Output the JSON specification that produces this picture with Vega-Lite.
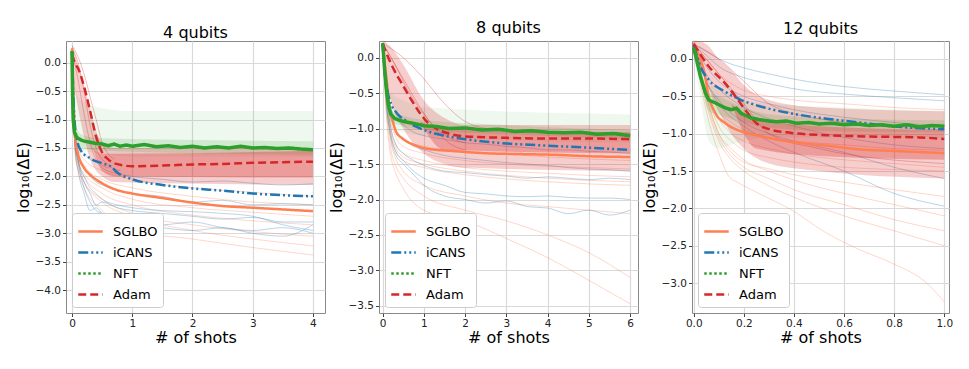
{
"$schema":"https://vega.github.io/schema/vega-lite/v6.json",
"background":"white",
"padding":{"left":14,"top":19,"right":5,"bottom":5},
"datasets":{
"means":[
{"panel":1,"method":"SGLBO","shots":0,"logdE":0.25},{"panel":1,"method":"SGLBO","shots":200000,"logdE":-0.5},{"panel":1,"method":"SGLBO","shots":500000,"logdE":-1.3},{"panel":1,"method":"SGLBO","shots":1000000,"logdE":-1.6},{"panel":1,"method":"SGLBO","shots":2000000,"logdE":-1.85},{"panel":1,"method":"SGLBO","shots":3000000,"logdE":-1.97},{"panel":1,"method":"SGLBO","shots":5000000,"logdE":-2.12},{"panel":1,"method":"SGLBO","shots":7500000,"logdE":-2.24},{"panel":1,"method":"SGLBO","shots":10000000,"logdE":-2.3},{"panel":1,"method":"SGLBO","shots":15000000,"logdE":-2.38},{"panel":1,"method":"SGLBO","shots":20000000,"logdE":-2.46},{"panel":1,"method":"SGLBO","shots":25000000,"logdE":-2.52},{"panel":1,"method":"SGLBO","shots":30000000,"logdE":-2.55},{"panel":1,"method":"SGLBO","shots":35000000,"logdE":-2.58},{"panel":1,"method":"SGLBO","shots":40000000,"logdE":-2.61},
{"panel":1,"method":"iCANS","shots":0,"logdE":0.2},{"panel":1,"method":"iCANS","shots":300000,"logdE":-0.8},{"panel":1,"method":"iCANS","shots":800000,"logdE":-1.35},{"panel":1,"method":"iCANS","shots":1500000,"logdE":-1.55},{"panel":1,"method":"iCANS","shots":3000000,"logdE":-1.68},{"panel":1,"method":"iCANS","shots":5000000,"logdE":-1.77},{"panel":1,"method":"iCANS","shots":6500000,"logdE":-1.83},{"panel":1,"method":"iCANS","shots":7500000,"logdE":-1.93},{"panel":1,"method":"iCANS","shots":10000000,"logdE":-2.05},{"panel":1,"method":"iCANS","shots":15000000,"logdE":-2.15},{"panel":1,"method":"iCANS","shots":20000000,"logdE":-2.21},{"panel":1,"method":"iCANS","shots":25000000,"logdE":-2.25},{"panel":1,"method":"iCANS","shots":30000000,"logdE":-2.3},{"panel":1,"method":"iCANS","shots":35000000,"logdE":-2.33},{"panel":1,"method":"iCANS","shots":40000000,"logdE":-2.35},
{"panel":1,"method":"NFT","shots":0,"logdE":0.2},{"panel":1,"method":"NFT","shots":100000,"logdE":-0.6},{"panel":1,"method":"NFT","shots":200000,"logdE":-1.0},{"panel":1,"method":"NFT","shots":400000,"logdE":-1.22},{"panel":1,"method":"NFT","shots":700000,"logdE":-1.3},{"panel":1,"method":"NFT","shots":1000000,"logdE":-1.33},{"panel":1,"method":"NFT","shots":1500000,"logdE":-1.36},{"panel":1,"method":"NFT","shots":2000000,"logdE":-1.38},{"panel":1,"method":"NFT","shots":3000000,"logdE":-1.4},{"panel":1,"method":"NFT","shots":4000000,"logdE":-1.42},{"panel":1,"method":"NFT","shots":5000000,"logdE":-1.43},{"panel":1,"method":"NFT","shots":6000000,"logdE":-1.46},{"panel":1,"method":"NFT","shots":7000000,"logdE":-1.43},{"panel":1,"method":"NFT","shots":8000000,"logdE":-1.47},{"panel":1,"method":"NFT","shots":9000000,"logdE":-1.45},{"panel":1,"method":"NFT","shots":10000000,"logdE":-1.47},{"panel":1,"method":"NFT","shots":12000000,"logdE":-1.44},{"panel":1,"method":"NFT","shots":14000000,"logdE":-1.48},{"panel":1,"method":"NFT","shots":16000000,"logdE":-1.46},{"panel":1,"method":"NFT","shots":18000000,"logdE":-1.49},{"panel":1,"method":"NFT","shots":20000000,"logdE":-1.47},{"panel":1,"method":"NFT","shots":22000000,"logdE":-1.5},{"panel":1,"method":"NFT","shots":24000000,"logdE":-1.48},{"panel":1,"method":"NFT","shots":26000000,"logdE":-1.5},{"panel":1,"method":"NFT","shots":28000000,"logdE":-1.47},{"panel":1,"method":"NFT","shots":30000000,"logdE":-1.5},{"panel":1,"method":"NFT","shots":32000000,"logdE":-1.49},{"panel":1,"method":"NFT","shots":34000000,"logdE":-1.51},{"panel":1,"method":"NFT","shots":36000000,"logdE":-1.5},{"panel":1,"method":"NFT","shots":38000000,"logdE":-1.52},{"panel":1,"method":"NFT","shots":40000000,"logdE":-1.53},
{"panel":1,"method":"Adam","shots":0,"logdE":0.15},{"panel":1,"method":"Adam","shots":500000,"logdE":-0.01},{"panel":1,"method":"Adam","shots":1000000,"logdE":-0.1},{"panel":1,"method":"Adam","shots":2000000,"logdE":-0.42},{"panel":1,"method":"Adam","shots":3000000,"logdE":-0.85},{"panel":1,"method":"Adam","shots":4000000,"logdE":-1.3},{"panel":1,"method":"Adam","shots":5000000,"logdE":-1.58},{"panel":1,"method":"Adam","shots":6000000,"logdE":-1.7},{"panel":1,"method":"Adam","shots":7000000,"logdE":-1.77},{"panel":1,"method":"Adam","shots":10000000,"logdE":-1.82},{"panel":1,"method":"Adam","shots":15000000,"logdE":-1.81},{"panel":1,"method":"Adam","shots":20000000,"logdE":-1.79},{"panel":1,"method":"Adam","shots":25000000,"logdE":-1.78},{"panel":1,"method":"Adam","shots":30000000,"logdE":-1.76},{"panel":1,"method":"Adam","shots":35000000,"logdE":-1.75},{"panel":1,"method":"Adam","shots":40000000,"logdE":-1.74},
{"panel":2,"method":"SGLBO","shots":0,"logdE":0.2},{"panel":2,"method":"SGLBO","shots":500000,"logdE":-0.1},{"panel":2,"method":"SGLBO","shots":1000000,"logdE":-0.35},{"panel":2,"method":"SGLBO","shots":1500000,"logdE":-0.64},{"panel":2,"method":"SGLBO","shots":2400000,"logdE":-0.88},{"panel":2,"method":"SGLBO","shots":3200000,"logdE":-1.04},{"panel":2,"method":"SGLBO","shots":4800000,"logdE":-1.14},{"panel":2,"method":"SGLBO","shots":7200000,"logdE":-1.22},{"panel":2,"method":"SGLBO","shots":10500000,"logdE":-1.28},{"panel":2,"method":"SGLBO","shots":17800000,"logdE":-1.32},{"panel":2,"method":"SGLBO","shots":26000000,"logdE":-1.35},{"panel":2,"method":"SGLBO","shots":34000000,"logdE":-1.36},{"panel":2,"method":"SGLBO","shots":42000000,"logdE":-1.37},{"panel":2,"method":"SGLBO","shots":50000000,"logdE":-1.39},{"panel":2,"method":"SGLBO","shots":60000000,"logdE":-1.4},
{"panel":2,"method":"iCANS","shots":0,"logdE":0.2},{"panel":2,"method":"iCANS","shots":500000,"logdE":-0.2},{"panel":2,"method":"iCANS","shots":1000000,"logdE":-0.42},{"panel":2,"method":"iCANS","shots":2000000,"logdE":-0.65},{"panel":2,"method":"iCANS","shots":3000000,"logdE":-0.75},{"panel":2,"method":"iCANS","shots":4000000,"logdE":-0.82},{"panel":2,"method":"iCANS","shots":6000000,"logdE":-0.9},{"panel":2,"method":"iCANS","shots":8000000,"logdE":-0.97},{"panel":2,"method":"iCANS","shots":10000000,"logdE":-1.02},{"panel":2,"method":"iCANS","shots":15000000,"logdE":-1.1},{"panel":2,"method":"iCANS","shots":20000000,"logdE":-1.15},{"panel":2,"method":"iCANS","shots":30000000,"logdE":-1.21},{"panel":2,"method":"iCANS","shots":40000000,"logdE":-1.24},{"panel":2,"method":"iCANS","shots":50000000,"logdE":-1.27},{"panel":2,"method":"iCANS","shots":60000000,"logdE":-1.3},
{"panel":2,"method":"NFT","shots":0,"logdE":0.2},{"panel":2,"method":"NFT","shots":500000,"logdE":-0.2},{"panel":2,"method":"NFT","shots":1000000,"logdE":-0.5},{"panel":2,"method":"NFT","shots":1500000,"logdE":-0.7},{"panel":2,"method":"NFT","shots":2000000,"logdE":-0.8},{"panel":2,"method":"NFT","shots":3000000,"logdE":-0.86},{"panel":2,"method":"NFT","shots":4000000,"logdE":-0.88},{"panel":2,"method":"NFT","shots":5000000,"logdE":-0.9},{"panel":2,"method":"NFT","shots":7000000,"logdE":-0.92},{"panel":2,"method":"NFT","shots":10000000,"logdE":-0.96},{"panel":2,"method":"NFT","shots":13000000,"logdE":-0.97},{"panel":2,"method":"NFT","shots":16000000,"logdE":-1.0},{"panel":2,"method":"NFT","shots":20000000,"logdE":-0.99},{"panel":2,"method":"NFT","shots":24000000,"logdE":-1.02},{"panel":2,"method":"NFT","shots":28000000,"logdE":-1.01},{"panel":2,"method":"NFT","shots":32000000,"logdE":-1.04},{"panel":2,"method":"NFT","shots":36000000,"logdE":-1.03},{"panel":2,"method":"NFT","shots":40000000,"logdE":-1.05},{"panel":2,"method":"NFT","shots":44000000,"logdE":-1.06},{"panel":2,"method":"NFT","shots":48000000,"logdE":-1.05},{"panel":2,"method":"NFT","shots":52000000,"logdE":-1.08},{"panel":2,"method":"NFT","shots":56000000,"logdE":-1.07},{"panel":2,"method":"NFT","shots":60000000,"logdE":-1.1},
{"panel":2,"method":"Adam","shots":0,"logdE":0.2},{"panel":2,"method":"Adam","shots":1000000,"logdE":0.05},{"panel":2,"method":"Adam","shots":3000000,"logdE":-0.2},{"panel":2,"method":"Adam","shots":5000000,"logdE":-0.4},{"panel":2,"method":"Adam","shots":7000000,"logdE":-0.6},{"panel":2,"method":"Adam","shots":9000000,"logdE":-0.78},{"panel":2,"method":"Adam","shots":11000000,"logdE":-0.92},{"panel":2,"method":"Adam","shots":13000000,"logdE":-1.0},{"panel":2,"method":"Adam","shots":16000000,"logdE":-1.07},{"panel":2,"method":"Adam","shots":20000000,"logdE":-1.11},{"panel":2,"method":"Adam","shots":30000000,"logdE":-1.13},{"panel":2,"method":"Adam","shots":40000000,"logdE":-1.14},{"panel":2,"method":"Adam","shots":50000000,"logdE":-1.14},{"panel":2,"method":"Adam","shots":60000000,"logdE":-1.15},
{"panel":3,"method":"SGLBO","shots":0,"logdE":0.22},{"panel":3,"method":"SGLBO","shots":2700000,"logdE":-0.01},{"panel":3,"method":"SGLBO","shots":4000000,"logdE":-0.15},{"panel":3,"method":"SGLBO","shots":6000000,"logdE":-0.5},{"panel":3,"method":"SGLBO","shots":8700000,"logdE":-0.73},{"panel":3,"method":"SGLBO","shots":12600000,"logdE":-0.86},{"panel":3,"method":"SGLBO","shots":19000000,"logdE":-0.97},{"panel":3,"method":"SGLBO","shots":26000000,"logdE":-1.03},{"panel":3,"method":"SGLBO","shots":39000000,"logdE":-1.11},{"panel":3,"method":"SGLBO","shots":53000000,"logdE":-1.16},{"panel":3,"method":"SGLBO","shots":66000000,"logdE":-1.21},{"panel":3,"method":"SGLBO","shots":79000000,"logdE":-1.23},{"panel":3,"method":"SGLBO","shots":100000000,"logdE":-1.26},
{"panel":3,"method":"iCANS","shots":0,"logdE":0.18},{"panel":3,"method":"iCANS","shots":3300000,"logdE":-0.15},{"panel":3,"method":"iCANS","shots":6000000,"logdE":-0.28},{"panel":3,"method":"iCANS","shots":12600000,"logdE":-0.44},{"panel":3,"method":"iCANS","shots":19000000,"logdE":-0.55},{"panel":3,"method":"iCANS","shots":26000000,"logdE":-0.63},{"panel":3,"method":"iCANS","shots":39000000,"logdE":-0.73},{"panel":3,"method":"iCANS","shots":53000000,"logdE":-0.8},{"panel":3,"method":"iCANS","shots":66000000,"logdE":-0.85},{"panel":3,"method":"iCANS","shots":79000000,"logdE":-0.9},{"panel":3,"method":"iCANS","shots":100000000,"logdE":-0.94},
{"panel":3,"method":"NFT","shots":0,"logdE":0.15},{"panel":3,"method":"NFT","shots":2700000,"logdE":-0.24},{"panel":3,"method":"NFT","shots":4700000,"logdE":-0.46},{"panel":3,"method":"NFT","shots":6000000,"logdE":-0.55},{"panel":3,"method":"NFT","shots":8700000,"logdE":-0.59},{"panel":3,"method":"NFT","shots":11000000,"logdE":-0.63},{"panel":3,"method":"NFT","shots":13000000,"logdE":-0.66},{"panel":3,"method":"NFT","shots":15000000,"logdE":-0.68},{"panel":3,"method":"NFT","shots":17000000,"logdE":-0.66},{"panel":3,"method":"NFT","shots":19000000,"logdE":-0.73},{"panel":3,"method":"NFT","shots":21000000,"logdE":-0.76},{"panel":3,"method":"NFT","shots":23000000,"logdE":-0.79},{"panel":3,"method":"NFT","shots":26000000,"logdE":-0.81},{"panel":3,"method":"NFT","shots":30000000,"logdE":-0.83},{"panel":3,"method":"NFT","shots":33000000,"logdE":-0.84},{"panel":3,"method":"NFT","shots":37000000,"logdE":-0.83},{"panel":3,"method":"NFT","shots":41000000,"logdE":-0.86},{"panel":3,"method":"NFT","shots":46000000,"logdE":-0.85},{"panel":3,"method":"NFT","shots":50000000,"logdE":-0.87},{"panel":3,"method":"NFT","shots":55000000,"logdE":-0.86},{"panel":3,"method":"NFT","shots":60000000,"logdE":-0.88},{"panel":3,"method":"NFT","shots":65000000,"logdE":-0.87},{"panel":3,"method":"NFT","shots":70000000,"logdE":-0.89},{"panel":3,"method":"NFT","shots":75000000,"logdE":-0.88},{"panel":3,"method":"NFT","shots":80000000,"logdE":-0.9},{"panel":3,"method":"NFT","shots":85000000,"logdE":-0.88},{"panel":3,"method":"NFT","shots":90000000,"logdE":-0.91},{"panel":3,"method":"NFT","shots":95000000,"logdE":-0.89},{"panel":3,"method":"NFT","shots":100000000,"logdE":-0.9},
{"panel":3,"method":"Adam","shots":0,"logdE":0.2},{"panel":3,"method":"Adam","shots":6000000,"logdE":-0.1},{"panel":3,"method":"Adam","shots":12600000,"logdE":-0.33},{"panel":3,"method":"Adam","shots":16600000,"logdE":-0.5},{"panel":3,"method":"Adam","shots":21000000,"logdE":-0.7},{"panel":3,"method":"Adam","shots":25000000,"logdE":-0.86},{"panel":3,"method":"Adam","shots":30000000,"logdE":-0.94},{"panel":3,"method":"Adam","shots":39000000,"logdE":-0.99},{"panel":3,"method":"Adam","shots":53000000,"logdE":-1.02},{"panel":3,"method":"Adam","shots":73000000,"logdE":-1.04},{"panel":3,"method":"Adam","shots":90000000,"logdE":-1.05},{"panel":3,"method":"Adam","shots":100000000,"logdE":-1.07}
],
"bands":[
{"panel":1,"optimizer":"NFT","band":"NFT haze","shots":0,"lo":0.1,"hi":0.25},{"panel":1,"optimizer":"NFT","band":"NFT haze","shots":300000,"lo":-1.3,"hi":-0.2},{"panel":1,"optimizer":"NFT","band":"NFT haze","shots":1000000,"lo":-1.5,"hi":-0.6},{"panel":1,"optimizer":"NFT","band":"NFT haze","shots":2000000,"lo":-1.55,"hi":-0.7},{"panel":1,"optimizer":"NFT","band":"NFT haze","shots":5000000,"lo":-1.6,"hi":-0.8},{"panel":1,"optimizer":"NFT","band":"NFT haze","shots":10000000,"lo":-1.65,"hi":-0.85},{"panel":1,"optimizer":"NFT","band":"NFT haze","shots":40000000,"lo":-1.65,"hi":-0.85},
{"panel":1,"optimizer":"NFT","band":"NFT core","shots":100000,"lo":-0.9,"hi":-0.9},{"panel":1,"optimizer":"NFT","band":"NFT core","shots":300000,"lo":-1.3,"hi":-1.05},{"panel":1,"optimizer":"NFT","band":"NFT core","shots":1000000,"lo":-1.45,"hi":-1.2},{"panel":1,"optimizer":"NFT","band":"NFT core","shots":2000000,"lo":-1.5,"hi":-1.28},{"panel":1,"optimizer":"NFT","band":"NFT core","shots":5000000,"lo":-1.55,"hi":-1.33},{"panel":1,"optimizer":"NFT","band":"NFT core","shots":40000000,"lo":-1.62,"hi":-1.38},
{"panel":1,"optimizer":"Adam","band":"Adam haze","shots":0,"lo":-0.1,"hi":0.3},{"panel":1,"optimizer":"Adam","band":"Adam haze","shots":500000,"lo":-0.5,"hi":0.15},{"panel":1,"optimizer":"Adam","band":"Adam haze","shots":1000000,"lo":-0.8,"hi":-0.05},{"panel":1,"optimizer":"Adam","band":"Adam haze","shots":2000000,"lo":-1.3,"hi":-0.4},{"panel":1,"optimizer":"Adam","band":"Adam haze","shots":3000000,"lo":-1.7,"hi":-0.8},{"panel":1,"optimizer":"Adam","band":"Adam haze","shots":4000000,"lo":-1.9,"hi":-1.2},{"panel":1,"optimizer":"Adam","band":"Adam haze","shots":5000000,"lo":-2.0,"hi":-1.4},{"panel":1,"optimizer":"Adam","band":"Adam haze","shots":7000000,"lo":-2.1,"hi":-1.5},{"panel":1,"optimizer":"Adam","band":"Adam haze","shots":40000000,"lo":-2.15,"hi":-1.5},
{"panel":1,"optimizer":"Adam","band":"Adam core","shots":3500000,"lo":-1.5,"hi":-1.5},{"panel":1,"optimizer":"Adam","band":"Adam core","shots":5000000,"lo":-1.9,"hi":-1.6},{"panel":1,"optimizer":"Adam","band":"Adam core","shots":7000000,"lo":-2.0,"hi":-1.6},{"panel":1,"optimizer":"Adam","band":"Adam core","shots":40000000,"lo":-2.02,"hi":-1.55},
{"panel":2,"optimizer":"NFT","band":"NFT haze","shots":0,"lo":0.15,"hi":0.25},{"panel":2,"optimizer":"NFT","band":"NFT haze","shots":1000000,"lo":-0.9,"hi":-0.2},{"panel":2,"optimizer":"NFT","band":"NFT haze","shots":2000000,"lo":-1.0,"hi":-0.5},{"panel":2,"optimizer":"NFT","band":"NFT haze","shots":5000000,"lo":-1.05,"hi":-0.6},{"panel":2,"optimizer":"NFT","band":"NFT haze","shots":10000000,"lo":-1.1,"hi":-0.7},{"panel":2,"optimizer":"NFT","band":"NFT haze","shots":60000000,"lo":-1.2,"hi":-0.8},
{"panel":2,"optimizer":"NFT","band":"NFT core","shots":1000000,"lo":-0.6,"hi":-0.6},{"panel":2,"optimizer":"NFT","band":"NFT core","shots":2000000,"lo":-0.9,"hi":-0.75},{"panel":2,"optimizer":"NFT","band":"NFT core","shots":5000000,"lo":-0.97,"hi":-0.82},{"panel":2,"optimizer":"NFT","band":"NFT core","shots":10000000,"lo":-1.02,"hi":-0.88},{"panel":2,"optimizer":"NFT","band":"NFT core","shots":30000000,"lo":-1.08,"hi":-0.95},{"panel":2,"optimizer":"NFT","band":"NFT core","shots":60000000,"lo":-1.15,"hi":-1.02},
{"panel":2,"optimizer":"Adam","band":"Adam haze","shots":0,"lo":0.1,"hi":0.25},{"panel":2,"optimizer":"Adam","band":"Adam haze","shots":2000000,"lo":-0.6,"hi":0.15},{"panel":2,"optimizer":"Adam","band":"Adam haze","shots":5000000,"lo":-1.0,"hi":-0.1},{"panel":2,"optimizer":"Adam","band":"Adam haze","shots":10000000,"lo":-1.35,"hi":-0.6},{"panel":2,"optimizer":"Adam","band":"Adam haze","shots":15000000,"lo":-1.5,"hi":-0.85},{"panel":2,"optimizer":"Adam","band":"Adam haze","shots":20000000,"lo":-1.55,"hi":-0.95},{"panel":2,"optimizer":"Adam","band":"Adam haze","shots":60000000,"lo":-1.6,"hi":-0.95},
{"panel":2,"optimizer":"Adam","band":"Adam core","shots":9000000,"lo":-0.9,"hi":-0.9},{"panel":2,"optimizer":"Adam","band":"Adam core","shots":15000000,"lo":-1.3,"hi":-1.0},{"panel":2,"optimizer":"Adam","band":"Adam core","shots":60000000,"lo":-1.35,"hi":-1.05},
{"panel":3,"optimizer":"NFT","band":"NFT haze","shots":0,"lo":0.1,"hi":0.25},{"panel":3,"optimizer":"NFT","band":"NFT haze","shots":3000000,"lo":-0.6,"hi":0.0},{"panel":3,"optimizer":"NFT","band":"NFT haze","shots":6000000,"lo":-1.1,"hi":-0.3},{"panel":3,"optimizer":"NFT","band":"NFT haze","shots":10000000,"lo":-1.2,"hi":-0.4},{"panel":3,"optimizer":"NFT","band":"NFT haze","shots":15000000,"lo":-1.15,"hi":-0.45},{"panel":3,"optimizer":"NFT","band":"NFT haze","shots":20000000,"lo":-1.1,"hi":-0.55},{"panel":3,"optimizer":"NFT","band":"NFT haze","shots":30000000,"lo":-1.05,"hi":-0.6},{"panel":3,"optimizer":"NFT","band":"NFT haze","shots":60000000,"lo":-1.05,"hi":-0.65},{"panel":3,"optimizer":"NFT","band":"NFT haze","shots":100000000,"lo":-1.05,"hi":-0.7},
{"panel":3,"optimizer":"NFT","band":"NFT core","shots":3000000,"lo":-0.3,"hi":-0.3},{"panel":3,"optimizer":"NFT","band":"NFT core","shots":6000000,"lo":-0.7,"hi":-0.45},{"panel":3,"optimizer":"NFT","band":"NFT core","shots":10000000,"lo":-0.75,"hi":-0.5},{"panel":3,"optimizer":"NFT","band":"NFT core","shots":20000000,"lo":-0.85,"hi":-0.65},{"panel":3,"optimizer":"NFT","band":"NFT core","shots":30000000,"lo":-0.92,"hi":-0.74},{"panel":3,"optimizer":"NFT","band":"NFT core","shots":60000000,"lo":-0.97,"hi":-0.8},{"panel":3,"optimizer":"NFT","band":"NFT core","shots":100000000,"lo":-0.98,"hi":-0.82},
{"panel":3,"optimizer":"Adam","band":"Adam haze","shots":0,"lo":0.1,"hi":0.25},{"panel":3,"optimizer":"Adam","band":"Adam haze","shots":5000000,"lo":-0.3,"hi":0.2},{"panel":3,"optimizer":"Adam","band":"Adam haze","shots":10000000,"lo":-0.7,"hi":0.0},{"panel":3,"optimizer":"Adam","band":"Adam haze","shots":15000000,"lo":-1.0,"hi":-0.15},{"panel":3,"optimizer":"Adam","band":"Adam haze","shots":20000000,"lo":-1.2,"hi":-0.35},{"panel":3,"optimizer":"Adam","band":"Adam haze","shots":30000000,"lo":-1.4,"hi":-0.55},{"panel":3,"optimizer":"Adam","band":"Adam haze","shots":50000000,"lo":-1.5,"hi":-0.65},{"panel":3,"optimizer":"Adam","band":"Adam haze","shots":100000000,"lo":-1.6,"hi":-0.7},
{"panel":3,"optimizer":"Adam","band":"Adam core","shots":15000000,"lo":-0.6,"hi":-0.6},{"panel":3,"optimizer":"Adam","band":"Adam core","shots":25000000,"lo":-1.2,"hi":-0.8},{"panel":3,"optimizer":"Adam","band":"Adam core","shots":50000000,"lo":-1.3,"hi":-0.9},{"panel":3,"optimizer":"Adam","band":"Adam core","shots":100000000,"lo":-1.35,"hi":-0.95}
],
"traces":[
{"panel":1,"optimizer":"SGLBO","run":"s1","shots":0,"logdE":0.25},{"panel":1,"optimizer":"SGLBO","run":"s1","shots":500000,"logdE":-1.2},{"panel":1,"optimizer":"SGLBO","run":"s1","shots":1000000,"logdE":-1.5},{"panel":1,"optimizer":"SGLBO","run":"s1","shots":2000000,"logdE":-1.7},{"panel":1,"optimizer":"SGLBO","run":"s1","shots":5000000,"logdE":-1.9},{"panel":1,"optimizer":"SGLBO","run":"s1","shots":10000000,"logdE":-2.05},{"panel":1,"optimizer":"SGLBO","run":"s1","shots":20000000,"logdE":-2.2},{"panel":1,"optimizer":"SGLBO","run":"s1","shots":30000000,"logdE":-2.28},{"panel":1,"optimizer":"SGLBO","run":"s1","shots":40000000,"logdE":-2.35},
{"panel":1,"optimizer":"SGLBO","run":"s2","shots":0,"logdE":0.22},{"panel":1,"optimizer":"SGLBO","run":"s2","shots":500000,"logdE":-1.3},{"panel":1,"optimizer":"SGLBO","run":"s2","shots":1000000,"logdE":-1.6},{"panel":1,"optimizer":"SGLBO","run":"s2","shots":2000000,"logdE":-1.8},{"panel":1,"optimizer":"SGLBO","run":"s2","shots":5000000,"logdE":-2.05},{"panel":1,"optimizer":"SGLBO","run":"s2","shots":10000000,"logdE":-2.2},{"panel":1,"optimizer":"SGLBO","run":"s2","shots":20000000,"logdE":-2.35},{"panel":1,"optimizer":"SGLBO","run":"s2","shots":30000000,"logdE":-2.45},{"panel":1,"optimizer":"SGLBO","run":"s2","shots":40000000,"logdE":-2.5},
{"panel":1,"optimizer":"SGLBO","run":"s3","shots":0,"logdE":0.2},{"panel":1,"optimizer":"SGLBO","run":"s3","shots":500000,"logdE":-1.4},{"panel":1,"optimizer":"SGLBO","run":"s3","shots":1000000,"logdE":-1.7},{"panel":1,"optimizer":"SGLBO","run":"s3","shots":2000000,"logdE":-1.95},{"panel":1,"optimizer":"SGLBO","run":"s3","shots":5000000,"logdE":-2.2},{"panel":1,"optimizer":"SGLBO","run":"s3","shots":10000000,"logdE":-2.4},{"panel":1,"optimizer":"SGLBO","run":"s3","shots":20000000,"logdE":-2.55},{"panel":1,"optimizer":"SGLBO","run":"s3","shots":30000000,"logdE":-2.63},{"panel":1,"optimizer":"SGLBO","run":"s3","shots":40000000,"logdE":-2.7},
{"panel":1,"optimizer":"SGLBO","run":"s4","shots":0,"logdE":0.2},{"panel":1,"optimizer":"SGLBO","run":"s4","shots":500000,"logdE":-1.4},{"panel":1,"optimizer":"SGLBO","run":"s4","shots":1000000,"logdE":-1.75},{"panel":1,"optimizer":"SGLBO","run":"s4","shots":2000000,"logdE":-2.0},{"panel":1,"optimizer":"SGLBO","run":"s4","shots":5000000,"logdE":-2.3},{"panel":1,"optimizer":"SGLBO","run":"s4","shots":10000000,"logdE":-2.5},{"panel":1,"optimizer":"SGLBO","run":"s4","shots":20000000,"logdE":-2.68},{"panel":1,"optimizer":"SGLBO","run":"s4","shots":30000000,"logdE":-2.78},{"panel":1,"optimizer":"SGLBO","run":"s4","shots":40000000,"logdE":-2.85},
{"panel":1,"optimizer":"SGLBO","run":"s5","shots":0,"logdE":0.18},{"panel":1,"optimizer":"SGLBO","run":"s5","shots":500000,"logdE":-1.5},{"panel":1,"optimizer":"SGLBO","run":"s5","shots":1000000,"logdE":-1.8},{"panel":1,"optimizer":"SGLBO","run":"s5","shots":2000000,"logdE":-2.1},{"panel":1,"optimizer":"SGLBO","run":"s5","shots":5000000,"logdE":-2.4},{"panel":1,"optimizer":"SGLBO","run":"s5","shots":10000000,"logdE":-2.65},{"panel":1,"optimizer":"SGLBO","run":"s5","shots":20000000,"logdE":-2.85},{"panel":1,"optimizer":"SGLBO","run":"s5","shots":30000000,"logdE":-2.97},{"panel":1,"optimizer":"SGLBO","run":"s5","shots":40000000,"logdE":-3.05},
{"panel":1,"optimizer":"SGLBO","run":"s6","shots":0,"logdE":0.2},{"panel":1,"optimizer":"SGLBO","run":"s6","shots":500000,"logdE":-1.5},{"panel":1,"optimizer":"SGLBO","run":"s6","shots":1000000,"logdE":-1.85},{"panel":1,"optimizer":"SGLBO","run":"s6","shots":2000000,"logdE":-2.1},{"panel":1,"optimizer":"SGLBO","run":"s6","shots":5000000,"logdE":-2.45},{"panel":1,"optimizer":"SGLBO","run":"s6","shots":10000000,"logdE":-2.7},{"panel":1,"optimizer":"SGLBO","run":"s6","shots":20000000,"logdE":-2.95},{"panel":1,"optimizer":"SGLBO","run":"s6","shots":30000000,"logdE":-3.1},{"panel":1,"optimizer":"SGLBO","run":"s6","shots":40000000,"logdE":-3.22},
{"panel":1,"optimizer":"SGLBO","run":"s7","shots":0,"logdE":0.2},{"panel":1,"optimizer":"SGLBO","run":"s7","shots":500000,"logdE":-1.6},{"panel":1,"optimizer":"SGLBO","run":"s7","shots":1000000,"logdE":-1.9},{"panel":1,"optimizer":"SGLBO","run":"s7","shots":2000000,"logdE":-2.2},{"panel":1,"optimizer":"SGLBO","run":"s7","shots":5000000,"logdE":-2.6},{"panel":1,"optimizer":"SGLBO","run":"s7","shots":10000000,"logdE":-2.95},{"panel":1,"optimizer":"SGLBO","run":"s7","shots":20000000,"logdE":-3.1},{"panel":1,"optimizer":"SGLBO","run":"s7","shots":30000000,"logdE":-3.25},{"panel":1,"optimizer":"SGLBO","run":"s7","shots":40000000,"logdE":-3.38},
{"panel":1,"optimizer":"iCANS","run":"b1","shots":0,"logdE":0.2},{"panel":1,"optimizer":"iCANS","run":"b1","shots":500000,"logdE":-1.2},{"panel":1,"optimizer":"iCANS","run":"b1","shots":1000000,"logdE":-1.45},{"panel":1,"optimizer":"iCANS","run":"b1","shots":2000000,"logdE":-1.6},{"panel":1,"optimizer":"iCANS","run":"b1","shots":3000000,"logdE":-1.7},{"panel":1,"optimizer":"iCANS","run":"b1","shots":4000000,"logdE":-1.75},{"panel":1,"optimizer":"iCANS","run":"b1","shots":5000000,"logdE":-1.85},{"panel":1,"optimizer":"iCANS","run":"b1","shots":7500000,"logdE":-1.95},{"panel":1,"optimizer":"iCANS","run":"b1","shots":10000000,"logdE":-2.0},{"panel":1,"optimizer":"iCANS","run":"b1","shots":15000000,"logdE":-2.05},{"panel":1,"optimizer":"iCANS","run":"b1","shots":20000000,"logdE":-2.1},{"panel":1,"optimizer":"iCANS","run":"b1","shots":25000000,"logdE":-2.08},{"panel":1,"optimizer":"iCANS","run":"b1","shots":30000000,"logdE":-2.12},{"panel":1,"optimizer":"iCANS","run":"b1","shots":35000000,"logdE":-2.15},{"panel":1,"optimizer":"iCANS","run":"b1","shots":40000000,"logdE":-2.13},
{"panel":1,"optimizer":"iCANS","run":"b2","shots":0,"logdE":0.2},{"panel":1,"optimizer":"iCANS","run":"b2","shots":500000,"logdE":-1.3},{"panel":1,"optimizer":"iCANS","run":"b2","shots":1000000,"logdE":-1.6},{"panel":1,"optimizer":"iCANS","run":"b2","shots":2000000,"logdE":-1.85},{"panel":1,"optimizer":"iCANS","run":"b2","shots":3000000,"logdE":-2.0},{"panel":1,"optimizer":"iCANS","run":"b2","shots":4000000,"logdE":-2.1},{"panel":1,"optimizer":"iCANS","run":"b2","shots":5000000,"logdE":-2.15},{"panel":1,"optimizer":"iCANS","run":"b2","shots":7500000,"logdE":-2.25},{"panel":1,"optimizer":"iCANS","run":"b2","shots":10000000,"logdE":-2.3},{"panel":1,"optimizer":"iCANS","run":"b2","shots":15000000,"logdE":-2.35},{"panel":1,"optimizer":"iCANS","run":"b2","shots":20000000,"logdE":-2.45},{"panel":1,"optimizer":"iCANS","run":"b2","shots":25000000,"logdE":-2.42},{"panel":1,"optimizer":"iCANS","run":"b2","shots":30000000,"logdE":-2.5},{"panel":1,"optimizer":"iCANS","run":"b2","shots":35000000,"logdE":-2.48},{"panel":1,"optimizer":"iCANS","run":"b2","shots":40000000,"logdE":-2.5},
{"panel":1,"optimizer":"iCANS","run":"b3","shots":0,"logdE":0.2},{"panel":1,"optimizer":"iCANS","run":"b3","shots":500000,"logdE":-1.4},{"panel":1,"optimizer":"iCANS","run":"b3","shots":1000000,"logdE":-1.7},{"panel":1,"optimizer":"iCANS","run":"b3","shots":2000000,"logdE":-2.1},{"panel":1,"optimizer":"iCANS","run":"b3","shots":3000000,"logdE":-2.3},{"panel":1,"optimizer":"iCANS","run":"b3","shots":4000000,"logdE":-2.5},{"panel":1,"optimizer":"iCANS","run":"b3","shots":5000000,"logdE":-2.45},{"panel":1,"optimizer":"iCANS","run":"b3","shots":7500000,"logdE":-2.55},{"panel":1,"optimizer":"iCANS","run":"b3","shots":10000000,"logdE":-2.6},{"panel":1,"optimizer":"iCANS","run":"b3","shots":15000000,"logdE":-2.65},{"panel":1,"optimizer":"iCANS","run":"b3","shots":20000000,"logdE":-2.7},{"panel":1,"optimizer":"iCANS","run":"b3","shots":25000000,"logdE":-2.75},{"panel":1,"optimizer":"iCANS","run":"b3","shots":30000000,"logdE":-2.72},{"panel":1,"optimizer":"iCANS","run":"b3","shots":35000000,"logdE":-2.8},{"panel":1,"optimizer":"iCANS","run":"b3","shots":40000000,"logdE":-2.8},
{"panel":1,"optimizer":"iCANS","run":"b4","shots":0,"logdE":0.2},{"panel":1,"optimizer":"iCANS","run":"b4","shots":500000,"logdE":-1.5},{"panel":1,"optimizer":"iCANS","run":"b4","shots":1000000,"logdE":-1.9},{"panel":1,"optimizer":"iCANS","run":"b4","shots":2000000,"logdE":-2.3},{"panel":1,"optimizer":"iCANS","run":"b4","shots":3000000,"logdE":-2.6},{"panel":1,"optimizer":"iCANS","run":"b4","shots":4000000,"logdE":-2.55},{"panel":1,"optimizer":"iCANS","run":"b4","shots":5000000,"logdE":-2.65},{"panel":1,"optimizer":"iCANS","run":"b4","shots":7500000,"logdE":-2.7},{"panel":1,"optimizer":"iCANS","run":"b4","shots":10000000,"logdE":-2.75},{"panel":1,"optimizer":"iCANS","run":"b4","shots":15000000,"logdE":-2.85},{"panel":1,"optimizer":"iCANS","run":"b4","shots":20000000,"logdE":-2.8},{"panel":1,"optimizer":"iCANS","run":"b4","shots":25000000,"logdE":-2.9},{"panel":1,"optimizer":"iCANS","run":"b4","shots":30000000,"logdE":-2.95},{"panel":1,"optimizer":"iCANS","run":"b4","shots":35000000,"logdE":-2.9},{"panel":1,"optimizer":"iCANS","run":"b4","shots":40000000,"logdE":-3.0},
{"panel":1,"optimizer":"iCANS","run":"b5","shots":0,"logdE":0.2},{"panel":1,"optimizer":"iCANS","run":"b5","shots":500000,"logdE":-1.35},{"panel":1,"optimizer":"iCANS","run":"b5","shots":1000000,"logdE":-1.7},{"panel":1,"optimizer":"iCANS","run":"b5","shots":2000000,"logdE":-2.0},{"panel":1,"optimizer":"iCANS","run":"b5","shots":3000000,"logdE":-2.2},{"panel":1,"optimizer":"iCANS","run":"b5","shots":4000000,"logdE":-2.3},{"panel":1,"optimizer":"iCANS","run":"b5","shots":5000000,"logdE":-2.4},{"panel":1,"optimizer":"iCANS","run":"b5","shots":7500000,"logdE":-2.5},{"panel":1,"optimizer":"iCANS","run":"b5","shots":10000000,"logdE":-2.55},{"panel":1,"optimizer":"iCANS","run":"b5","shots":15000000,"logdE":-2.6},{"panel":1,"optimizer":"iCANS","run":"b5","shots":20000000,"logdE":-2.62},{"panel":1,"optimizer":"iCANS","run":"b5","shots":25000000,"logdE":-2.65},{"panel":1,"optimizer":"iCANS","run":"b5","shots":30000000,"logdE":-2.7},{"panel":1,"optimizer":"iCANS","run":"b5","shots":35000000,"logdE":-2.85},{"panel":1,"optimizer":"iCANS","run":"b5","shots":40000000,"logdE":-2.95},
{"panel":1,"optimizer":"iCANS","run":"b6","shots":0,"logdE":0.2},{"panel":1,"optimizer":"iCANS","run":"b6","shots":500000,"logdE":-1.4},{"panel":1,"optimizer":"iCANS","run":"b6","shots":1000000,"logdE":-1.75},{"panel":1,"optimizer":"iCANS","run":"b6","shots":2000000,"logdE":-2.2},{"panel":1,"optimizer":"iCANS","run":"b6","shots":3000000,"logdE":-2.45},{"panel":1,"optimizer":"iCANS","run":"b6","shots":4000000,"logdE":-2.6},{"panel":1,"optimizer":"iCANS","run":"b6","shots":5000000,"logdE":-2.65},{"panel":1,"optimizer":"iCANS","run":"b6","shots":7500000,"logdE":-2.7},{"panel":1,"optimizer":"iCANS","run":"b6","shots":10000000,"logdE":-2.8},{"panel":1,"optimizer":"iCANS","run":"b6","shots":15000000,"logdE":-2.9},{"panel":1,"optimizer":"iCANS","run":"b6","shots":20000000,"logdE":-2.95},{"panel":1,"optimizer":"iCANS","run":"b6","shots":25000000,"logdE":-2.9},{"panel":1,"optimizer":"iCANS","run":"b6","shots":30000000,"logdE":-3.0},{"panel":1,"optimizer":"iCANS","run":"b6","shots":35000000,"logdE":-3.05},{"panel":1,"optimizer":"iCANS","run":"b6","shots":40000000,"logdE":-2.85},
{"panel":1,"optimizer":"Adam","run":"a1","shots":0,"logdE":0.25},{"panel":1,"optimizer":"Adam","run":"a1","shots":1000000,"logdE":0.0},{"panel":1,"optimizer":"Adam","run":"a1","shots":2000000,"logdE":-0.5},{"panel":1,"optimizer":"Adam","run":"a1","shots":3000000,"logdE":-1.1},{"panel":1,"optimizer":"Adam","run":"a1","shots":4000000,"logdE":-1.5},{"panel":1,"optimizer":"Adam","run":"a1","shots":6000000,"logdE":-1.8},{"panel":1,"optimizer":"Adam","run":"a1","shots":8000000,"logdE":-1.9},
{"panel":1,"optimizer":"Adam","run":"a2","shots":0,"logdE":0.2},{"panel":1,"optimizer":"Adam","run":"a2","shots":1000000,"logdE":-0.3},{"panel":1,"optimizer":"Adam","run":"a2","shots":2000000,"logdE":-0.9},{"panel":1,"optimizer":"Adam","run":"a2","shots":3000000,"logdE":-1.4},{"panel":1,"optimizer":"Adam","run":"a2","shots":4000000,"logdE":-1.7},{"panel":1,"optimizer":"Adam","run":"a2","shots":6000000,"logdE":-1.85},
{"panel":1,"optimizer":"Adam","run":"a3","shots":0,"logdE":0.3},{"panel":1,"optimizer":"Adam","run":"a3","shots":1000000,"logdE":0.1},{"panel":1,"optimizer":"Adam","run":"a3","shots":2000000,"logdE":-0.2},{"panel":1,"optimizer":"Adam","run":"a3","shots":3000000,"logdE":-0.6},{"panel":1,"optimizer":"Adam","run":"a3","shots":4000000,"logdE":-1.0},{"panel":1,"optimizer":"Adam","run":"a3","shots":5000000,"logdE":-1.4},{"panel":1,"optimizer":"Adam","run":"a3","shots":7000000,"logdE":-1.7},
{"panel":2,"optimizer":"SGLBO","run":"s1","shots":0,"logdE":0.2},{"panel":2,"optimizer":"SGLBO","run":"s1","shots":1000000,"logdE":-0.3},{"panel":2,"optimizer":"SGLBO","run":"s1","shots":2000000,"logdE":-0.8},{"panel":2,"optimizer":"SGLBO","run":"s1","shots":3000000,"logdE":-1.0},{"panel":2,"optimizer":"SGLBO","run":"s1","shots":5000000,"logdE":-1.15},{"panel":2,"optimizer":"SGLBO","run":"s1","shots":10000000,"logdE":-1.25},{"panel":2,"optimizer":"SGLBO","run":"s1","shots":20000000,"logdE":-1.32},{"panel":2,"optimizer":"SGLBO","run":"s1","shots":30000000,"logdE":-1.36},{"panel":2,"optimizer":"SGLBO","run":"s1","shots":40000000,"logdE":-1.4},{"panel":2,"optimizer":"SGLBO","run":"s1","shots":50000000,"logdE":-1.43},{"panel":2,"optimizer":"SGLBO","run":"s1","shots":60000000,"logdE":-1.45},
{"panel":2,"optimizer":"SGLBO","run":"s2","shots":0,"logdE":0.2},{"panel":2,"optimizer":"SGLBO","run":"s2","shots":1000000,"logdE":-0.4},{"panel":2,"optimizer":"SGLBO","run":"s2","shots":2000000,"logdE":-0.9},{"panel":2,"optimizer":"SGLBO","run":"s2","shots":3000000,"logdE":-1.1},{"panel":2,"optimizer":"SGLBO","run":"s2","shots":5000000,"logdE":-1.25},{"panel":2,"optimizer":"SGLBO","run":"s2","shots":10000000,"logdE":-1.35},{"panel":2,"optimizer":"SGLBO","run":"s2","shots":20000000,"logdE":-1.45},{"panel":2,"optimizer":"SGLBO","run":"s2","shots":30000000,"logdE":-1.5},{"panel":2,"optimizer":"SGLBO","run":"s2","shots":40000000,"logdE":-1.53},{"panel":2,"optimizer":"SGLBO","run":"s2","shots":50000000,"logdE":-1.55},{"panel":2,"optimizer":"SGLBO","run":"s2","shots":60000000,"logdE":-1.57},
{"panel":2,"optimizer":"SGLBO","run":"s3","shots":0,"logdE":0.2},{"panel":2,"optimizer":"SGLBO","run":"s3","shots":1000000,"logdE":-0.5},{"panel":2,"optimizer":"SGLBO","run":"s3","shots":2000000,"logdE":-1.0},{"panel":2,"optimizer":"SGLBO","run":"s3","shots":3000000,"logdE":-1.2},{"panel":2,"optimizer":"SGLBO","run":"s3","shots":5000000,"logdE":-1.35},{"panel":2,"optimizer":"SGLBO","run":"s3","shots":10000000,"logdE":-1.45},{"panel":2,"optimizer":"SGLBO","run":"s3","shots":20000000,"logdE":-1.55},{"panel":2,"optimizer":"SGLBO","run":"s3","shots":30000000,"logdE":-1.6},{"panel":2,"optimizer":"SGLBO","run":"s3","shots":40000000,"logdE":-1.63},{"panel":2,"optimizer":"SGLBO","run":"s3","shots":50000000,"logdE":-1.66},{"panel":2,"optimizer":"SGLBO","run":"s3","shots":60000000,"logdE":-1.68},
{"panel":2,"optimizer":"SGLBO","run":"s4","shots":0,"logdE":0.2},{"panel":2,"optimizer":"SGLBO","run":"s4","shots":1000000,"logdE":-0.5},{"panel":2,"optimizer":"SGLBO","run":"s4","shots":2000000,"logdE":-1.05},{"panel":2,"optimizer":"SGLBO","run":"s4","shots":3000000,"logdE":-1.25},{"panel":2,"optimizer":"SGLBO","run":"s4","shots":5000000,"logdE":-1.4},{"panel":2,"optimizer":"SGLBO","run":"s4","shots":10000000,"logdE":-1.5},{"panel":2,"optimizer":"SGLBO","run":"s4","shots":20000000,"logdE":-1.6},{"panel":2,"optimizer":"SGLBO","run":"s4","shots":30000000,"logdE":-1.66},{"panel":2,"optimizer":"SGLBO","run":"s4","shots":40000000,"logdE":-1.7},{"panel":2,"optimizer":"SGLBO","run":"s4","shots":50000000,"logdE":-1.73},{"panel":2,"optimizer":"SGLBO","run":"s4","shots":60000000,"logdE":-1.75},
{"panel":2,"optimizer":"SGLBO","run":"s5","shots":0,"logdE":0.2},{"panel":2,"optimizer":"SGLBO","run":"s5","shots":1000000,"logdE":-0.6},{"panel":2,"optimizer":"SGLBO","run":"s5","shots":2000000,"logdE":-1.1},{"panel":2,"optimizer":"SGLBO","run":"s5","shots":3000000,"logdE":-1.3},{"panel":2,"optimizer":"SGLBO","run":"s5","shots":5000000,"logdE":-1.45},{"panel":2,"optimizer":"SGLBO","run":"s5","shots":10000000,"logdE":-1.55},{"panel":2,"optimizer":"SGLBO","run":"s5","shots":20000000,"logdE":-1.65},{"panel":2,"optimizer":"SGLBO","run":"s5","shots":30000000,"logdE":-1.71},{"panel":2,"optimizer":"SGLBO","run":"s5","shots":40000000,"logdE":-1.75},{"panel":2,"optimizer":"SGLBO","run":"s5","shots":50000000,"logdE":-1.78},{"panel":2,"optimizer":"SGLBO","run":"s5","shots":60000000,"logdE":-1.8},
{"panel":2,"optimizer":"SGLBO","run":"s6","shots":0,"logdE":0.2},{"panel":2,"optimizer":"SGLBO","run":"s6","shots":1000000,"logdE":-0.7},{"panel":2,"optimizer":"SGLBO","run":"s6","shots":2000000,"logdE":-1.2},{"panel":2,"optimizer":"SGLBO","run":"s6","shots":3000000,"logdE":-1.4},{"panel":2,"optimizer":"SGLBO","run":"s6","shots":5000000,"logdE":-1.6},{"panel":2,"optimizer":"SGLBO","run":"s6","shots":10000000,"logdE":-1.8},{"panel":2,"optimizer":"SGLBO","run":"s6","shots":20000000,"logdE":-1.95},{"panel":2,"optimizer":"SGLBO","run":"s6","shots":30000000,"logdE":-2.05},{"panel":2,"optimizer":"SGLBO","run":"s6","shots":40000000,"logdE":-2.1},{"panel":2,"optimizer":"SGLBO","run":"s6","shots":50000000,"logdE":-2.15},{"panel":2,"optimizer":"SGLBO","run":"s6","shots":60000000,"logdE":-2.2},
{"panel":2,"optimizer":"SGLBO","run":"s7","shots":0,"logdE":0.2},{"panel":2,"optimizer":"SGLBO","run":"s7","shots":1000000,"logdE":-0.8},{"panel":2,"optimizer":"SGLBO","run":"s7","shots":2000000,"logdE":-1.3},{"panel":2,"optimizer":"SGLBO","run":"s7","shots":3000000,"logdE":-1.5},{"panel":2,"optimizer":"SGLBO","run":"s7","shots":5000000,"logdE":-1.7},{"panel":2,"optimizer":"SGLBO","run":"s7","shots":10000000,"logdE":-1.95},{"panel":2,"optimizer":"SGLBO","run":"s7","shots":20000000,"logdE":-2.15},{"panel":2,"optimizer":"SGLBO","run":"s7","shots":30000000,"logdE":-2.3},{"panel":2,"optimizer":"SGLBO","run":"s7","shots":40000000,"logdE":-2.5},{"panel":2,"optimizer":"SGLBO","run":"s7","shots":50000000,"logdE":-2.75},{"panel":2,"optimizer":"SGLBO","run":"s7","shots":60000000,"logdE":-3.1},
{"panel":2,"optimizer":"SGLBO","run":"s8","shots":0,"logdE":0.2},{"panel":2,"optimizer":"SGLBO","run":"s8","shots":1000000,"logdE":-0.9},{"panel":2,"optimizer":"SGLBO","run":"s8","shots":2000000,"logdE":-1.4},{"panel":2,"optimizer":"SGLBO","run":"s8","shots":3000000,"logdE":-1.6},{"panel":2,"optimizer":"SGLBO","run":"s8","shots":5000000,"logdE":-1.85},{"panel":2,"optimizer":"SGLBO","run":"s8","shots":10000000,"logdE":-2.15},{"panel":2,"optimizer":"SGLBO","run":"s8","shots":20000000,"logdE":-2.3},{"panel":2,"optimizer":"SGLBO","run":"s8","shots":30000000,"logdE":-2.55},{"panel":2,"optimizer":"SGLBO","run":"s8","shots":40000000,"logdE":-2.82},{"panel":2,"optimizer":"SGLBO","run":"s8","shots":50000000,"logdE":-3.14},{"panel":2,"optimizer":"SGLBO","run":"s8","shots":60000000,"logdE":-3.47},
{"panel":2,"optimizer":"iCANS","run":"b1","shots":0,"logdE":0.2},{"panel":2,"optimizer":"iCANS","run":"b1","shots":1000000,"logdE":-0.4},{"panel":2,"optimizer":"iCANS","run":"b1","shots":2000000,"logdE":-0.7},{"panel":2,"optimizer":"iCANS","run":"b1","shots":3000000,"logdE":-0.85},{"panel":2,"optimizer":"iCANS","run":"b1","shots":5000000,"logdE":-0.95},{"panel":2,"optimizer":"iCANS","run":"b1","shots":7500000,"logdE":-1.05},{"panel":2,"optimizer":"iCANS","run":"b1","shots":10000000,"logdE":-1.1},{"panel":2,"optimizer":"iCANS","run":"b1","shots":15000000,"logdE":-1.15},{"panel":2,"optimizer":"iCANS","run":"b1","shots":20000000,"logdE":-1.2},{"panel":2,"optimizer":"iCANS","run":"b1","shots":25000000,"logdE":-1.22},{"panel":2,"optimizer":"iCANS","run":"b1","shots":30000000,"logdE":-1.25},{"panel":2,"optimizer":"iCANS","run":"b1","shots":35000000,"logdE":-1.27},{"panel":2,"optimizer":"iCANS","run":"b1","shots":40000000,"logdE":-1.3},{"panel":2,"optimizer":"iCANS","run":"b1","shots":45000000,"logdE":-1.3},{"panel":2,"optimizer":"iCANS","run":"b1","shots":50000000,"logdE":-1.32},{"panel":2,"optimizer":"iCANS","run":"b1","shots":55000000,"logdE":-1.33},{"panel":2,"optimizer":"iCANS","run":"b1","shots":60000000,"logdE":-1.35},
{"panel":2,"optimizer":"iCANS","run":"b2","shots":0,"logdE":0.2},{"panel":2,"optimizer":"iCANS","run":"b2","shots":1000000,"logdE":-0.5},{"panel":2,"optimizer":"iCANS","run":"b2","shots":2000000,"logdE":-0.85},{"panel":2,"optimizer":"iCANS","run":"b2","shots":3000000,"logdE":-1.0},{"panel":2,"optimizer":"iCANS","run":"b2","shots":5000000,"logdE":-1.15},{"panel":2,"optimizer":"iCANS","run":"b2","shots":7500000,"logdE":-1.25},{"panel":2,"optimizer":"iCANS","run":"b2","shots":10000000,"logdE":-1.3},{"panel":2,"optimizer":"iCANS","run":"b2","shots":15000000,"logdE":-1.38},{"panel":2,"optimizer":"iCANS","run":"b2","shots":20000000,"logdE":-1.42},{"panel":2,"optimizer":"iCANS","run":"b2","shots":25000000,"logdE":-1.45},{"panel":2,"optimizer":"iCANS","run":"b2","shots":30000000,"logdE":-1.48},{"panel":2,"optimizer":"iCANS","run":"b2","shots":35000000,"logdE":-1.5},{"panel":2,"optimizer":"iCANS","run":"b2","shots":40000000,"logdE":-1.52},{"panel":2,"optimizer":"iCANS","run":"b2","shots":45000000,"logdE":-1.55},{"panel":2,"optimizer":"iCANS","run":"b2","shots":50000000,"logdE":-1.57},{"panel":2,"optimizer":"iCANS","run":"b2","shots":55000000,"logdE":-1.58},{"panel":2,"optimizer":"iCANS","run":"b2","shots":60000000,"logdE":-1.6},
{"panel":2,"optimizer":"iCANS","run":"b3","shots":0,"logdE":0.2},{"panel":2,"optimizer":"iCANS","run":"b3","shots":1000000,"logdE":-0.6},{"panel":2,"optimizer":"iCANS","run":"b3","shots":2000000,"logdE":-1.0},{"panel":2,"optimizer":"iCANS","run":"b3","shots":3000000,"logdE":-1.2},{"panel":2,"optimizer":"iCANS","run":"b3","shots":5000000,"logdE":-1.35},{"panel":2,"optimizer":"iCANS","run":"b3","shots":7500000,"logdE":-1.45},{"panel":2,"optimizer":"iCANS","run":"b3","shots":10000000,"logdE":-1.52},{"panel":2,"optimizer":"iCANS","run":"b3","shots":15000000,"logdE":-1.6},{"panel":2,"optimizer":"iCANS","run":"b3","shots":20000000,"logdE":-1.62},{"panel":2,"optimizer":"iCANS","run":"b3","shots":25000000,"logdE":-1.65},{"panel":2,"optimizer":"iCANS","run":"b3","shots":30000000,"logdE":-1.67},{"panel":2,"optimizer":"iCANS","run":"b3","shots":35000000,"logdE":-1.7},{"panel":2,"optimizer":"iCANS","run":"b3","shots":40000000,"logdE":-1.68},{"panel":2,"optimizer":"iCANS","run":"b3","shots":45000000,"logdE":-1.7},{"panel":2,"optimizer":"iCANS","run":"b3","shots":50000000,"logdE":-1.72},{"panel":2,"optimizer":"iCANS","run":"b3","shots":55000000,"logdE":-1.7},{"panel":2,"optimizer":"iCANS","run":"b3","shots":60000000,"logdE":-1.72},
{"panel":2,"optimizer":"iCANS","run":"b4","shots":0,"logdE":0.2},{"panel":2,"optimizer":"iCANS","run":"b4","shots":1000000,"logdE":-0.7},{"panel":2,"optimizer":"iCANS","run":"b4","shots":2000000,"logdE":-1.1},{"panel":2,"optimizer":"iCANS","run":"b4","shots":3000000,"logdE":-1.3},{"panel":2,"optimizer":"iCANS","run":"b4","shots":5000000,"logdE":-1.45},{"panel":2,"optimizer":"iCANS","run":"b4","shots":7500000,"logdE":-1.6},{"panel":2,"optimizer":"iCANS","run":"b4","shots":10000000,"logdE":-1.7},{"panel":2,"optimizer":"iCANS","run":"b4","shots":15000000,"logdE":-1.8},{"panel":2,"optimizer":"iCANS","run":"b4","shots":20000000,"logdE":-1.9},{"panel":2,"optimizer":"iCANS","run":"b4","shots":25000000,"logdE":-1.92},{"panel":2,"optimizer":"iCANS","run":"b4","shots":30000000,"logdE":-1.95},{"panel":2,"optimizer":"iCANS","run":"b4","shots":35000000,"logdE":-1.96},{"panel":2,"optimizer":"iCANS","run":"b4","shots":40000000,"logdE":-1.95},{"panel":2,"optimizer":"iCANS","run":"b4","shots":45000000,"logdE":-1.97},{"panel":2,"optimizer":"iCANS","run":"b4","shots":50000000,"logdE":-1.98},{"panel":2,"optimizer":"iCANS","run":"b4","shots":55000000,"logdE":-1.98},{"panel":2,"optimizer":"iCANS","run":"b4","shots":60000000,"logdE":-2.0},
{"panel":2,"optimizer":"iCANS","run":"b5","shots":0,"logdE":0.2},{"panel":2,"optimizer":"iCANS","run":"b5","shots":1000000,"logdE":-0.7},{"panel":2,"optimizer":"iCANS","run":"b5","shots":2000000,"logdE":-1.15},{"panel":2,"optimizer":"iCANS","run":"b5","shots":3000000,"logdE":-1.35},{"panel":2,"optimizer":"iCANS","run":"b5","shots":5000000,"logdE":-1.5},{"panel":2,"optimizer":"iCANS","run":"b5","shots":7500000,"logdE":-1.65},{"panel":2,"optimizer":"iCANS","run":"b5","shots":10000000,"logdE":-1.8},{"panel":2,"optimizer":"iCANS","run":"b5","shots":15000000,"logdE":-1.95},{"panel":2,"optimizer":"iCANS","run":"b5","shots":20000000,"logdE":-2.0},{"panel":2,"optimizer":"iCANS","run":"b5","shots":25000000,"logdE":-2.05},{"panel":2,"optimizer":"iCANS","run":"b5","shots":30000000,"logdE":-2.02},{"panel":2,"optimizer":"iCANS","run":"b5","shots":35000000,"logdE":-2.1},{"panel":2,"optimizer":"iCANS","run":"b5","shots":40000000,"logdE":-2.12},{"panel":2,"optimizer":"iCANS","run":"b5","shots":45000000,"logdE":-2.2},{"panel":2,"optimizer":"iCANS","run":"b5","shots":50000000,"logdE":-2.15},{"panel":2,"optimizer":"iCANS","run":"b5","shots":55000000,"logdE":-2.22},{"panel":2,"optimizer":"iCANS","run":"b5","shots":60000000,"logdE":-2.15},
{"panel":2,"optimizer":"Adam","run":"a1","shots":0,"logdE":0.2},{"panel":2,"optimizer":"Adam","run":"a1","shots":2000000,"logdE":0.0},{"panel":2,"optimizer":"Adam","run":"a1","shots":5000000,"logdE":-0.3},{"panel":2,"optimizer":"Adam","run":"a1","shots":8000000,"logdE":-0.6},{"panel":2,"optimizer":"Adam","run":"a1","shots":12000000,"logdE":-0.95},{"panel":2,"optimizer":"Adam","run":"a1","shots":16000000,"logdE":-1.2},{"panel":2,"optimizer":"Adam","run":"a1","shots":20000000,"logdE":-1.3},
{"panel":2,"optimizer":"Adam","run":"a2","shots":0,"logdE":0.2},{"panel":2,"optimizer":"Adam","run":"a2","shots":3000000,"logdE":-0.1},{"panel":2,"optimizer":"Adam","run":"a2","shots":6000000,"logdE":-0.45},{"panel":2,"optimizer":"Adam","run":"a2","shots":10000000,"logdE":-0.8},{"panel":2,"optimizer":"Adam","run":"a2","shots":14000000,"logdE":-1.05},{"panel":2,"optimizer":"Adam","run":"a2","shots":20000000,"logdE":-1.2},
{"panel":2,"optimizer":"Adam","run":"a3","shots":0,"logdE":0.2},{"panel":2,"optimizer":"Adam","run":"a3","shots":5000000,"logdE":0.0},{"panel":2,"optimizer":"Adam","run":"a3","shots":10000000,"logdE":-0.3},{"panel":2,"optimizer":"Adam","run":"a3","shots":15000000,"logdE":-0.65},{"panel":2,"optimizer":"Adam","run":"a3","shots":20000000,"logdE":-0.9},{"panel":2,"optimizer":"Adam","run":"a3","shots":25000000,"logdE":-1.0},
{"panel":3,"optimizer":"SGLBO","run":"s1","shots":0,"logdE":0.2},{"panel":3,"optimizer":"SGLBO","run":"s1","shots":5000000,"logdE":0.0},{"panel":3,"optimizer":"SGLBO","run":"s1","shots":10000000,"logdE":-0.2},{"panel":3,"optimizer":"SGLBO","run":"s1","shots":15000000,"logdE":-0.33},{"panel":3,"optimizer":"SGLBO","run":"s1","shots":20000000,"logdE":-0.42},{"panel":3,"optimizer":"SGLBO","run":"s1","shots":30000000,"logdE":-0.5},{"panel":3,"optimizer":"SGLBO","run":"s1","shots":40000000,"logdE":-0.55},{"panel":3,"optimizer":"SGLBO","run":"s1","shots":60000000,"logdE":-0.6},{"panel":3,"optimizer":"SGLBO","run":"s1","shots":80000000,"logdE":-0.65},{"panel":3,"optimizer":"SGLBO","run":"s1","shots":100000000,"logdE":-0.68},
{"panel":3,"optimizer":"SGLBO","run":"s2","shots":0,"logdE":0.2},{"panel":3,"optimizer":"SGLBO","run":"s2","shots":5000000,"logdE":-0.3},{"panel":3,"optimizer":"SGLBO","run":"s2","shots":10000000,"logdE":-0.7},{"panel":3,"optimizer":"SGLBO","run":"s2","shots":15000000,"logdE":-0.85},{"panel":3,"optimizer":"SGLBO","run":"s2","shots":20000000,"logdE":-0.95},{"panel":3,"optimizer":"SGLBO","run":"s2","shots":30000000,"logdE":-1.05},{"panel":3,"optimizer":"SGLBO","run":"s2","shots":40000000,"logdE":-1.1},{"panel":3,"optimizer":"SGLBO","run":"s2","shots":60000000,"logdE":-1.15},{"panel":3,"optimizer":"SGLBO","run":"s2","shots":80000000,"logdE":-1.2},{"panel":3,"optimizer":"SGLBO","run":"s2","shots":100000000,"logdE":-1.22},
{"panel":3,"optimizer":"SGLBO","run":"s3","shots":0,"logdE":0.2},{"panel":3,"optimizer":"SGLBO","run":"s3","shots":5000000,"logdE":-0.4},{"panel":3,"optimizer":"SGLBO","run":"s3","shots":10000000,"logdE":-0.8},{"panel":3,"optimizer":"SGLBO","run":"s3","shots":15000000,"logdE":-1.0},{"panel":3,"optimizer":"SGLBO","run":"s3","shots":20000000,"logdE":-1.1},{"panel":3,"optimizer":"SGLBO","run":"s3","shots":30000000,"logdE":-1.2},{"panel":3,"optimizer":"SGLBO","run":"s3","shots":40000000,"logdE":-1.27},{"panel":3,"optimizer":"SGLBO","run":"s3","shots":60000000,"logdE":-1.35},{"panel":3,"optimizer":"SGLBO","run":"s3","shots":80000000,"logdE":-1.4},{"panel":3,"optimizer":"SGLBO","run":"s3","shots":100000000,"logdE":-1.45},
{"panel":3,"optimizer":"SGLBO","run":"s4","shots":0,"logdE":0.2},{"panel":3,"optimizer":"SGLBO","run":"s4","shots":5000000,"logdE":-0.45},{"panel":3,"optimizer":"SGLBO","run":"s4","shots":10000000,"logdE":-0.9},{"panel":3,"optimizer":"SGLBO","run":"s4","shots":15000000,"logdE":-1.1},{"panel":3,"optimizer":"SGLBO","run":"s4","shots":20000000,"logdE":-1.22},{"panel":3,"optimizer":"SGLBO","run":"s4","shots":30000000,"logdE":-1.32},{"panel":3,"optimizer":"SGLBO","run":"s4","shots":40000000,"logdE":-1.38},{"panel":3,"optimizer":"SGLBO","run":"s4","shots":60000000,"logdE":-1.45},{"panel":3,"optimizer":"SGLBO","run":"s4","shots":80000000,"logdE":-1.48},{"panel":3,"optimizer":"SGLBO","run":"s4","shots":100000000,"logdE":-1.5},
{"panel":3,"optimizer":"SGLBO","run":"s5","shots":0,"logdE":0.2},{"panel":3,"optimizer":"SGLBO","run":"s5","shots":5000000,"logdE":-0.5},{"panel":3,"optimizer":"SGLBO","run":"s5","shots":10000000,"logdE":-1.0},{"panel":3,"optimizer":"SGLBO","run":"s5","shots":15000000,"logdE":-1.25},{"panel":3,"optimizer":"SGLBO","run":"s5","shots":20000000,"logdE":-1.38},{"panel":3,"optimizer":"SGLBO","run":"s5","shots":30000000,"logdE":-1.47},{"panel":3,"optimizer":"SGLBO","run":"s5","shots":40000000,"logdE":-1.55},{"panel":3,"optimizer":"SGLBO","run":"s5","shots":60000000,"logdE":-1.65},{"panel":3,"optimizer":"SGLBO","run":"s5","shots":80000000,"logdE":-1.75},{"panel":3,"optimizer":"SGLBO","run":"s5","shots":100000000,"logdE":-1.84},
{"panel":3,"optimizer":"SGLBO","run":"s6","shots":0,"logdE":0.2},{"panel":3,"optimizer":"SGLBO","run":"s6","shots":5000000,"logdE":-0.5},{"panel":3,"optimizer":"SGLBO","run":"s6","shots":10000000,"logdE":-1.0},{"panel":3,"optimizer":"SGLBO","run":"s6","shots":15000000,"logdE":-1.2},{"panel":3,"optimizer":"SGLBO","run":"s6","shots":20000000,"logdE":-1.35},{"panel":3,"optimizer":"SGLBO","run":"s6","shots":30000000,"logdE":-1.5},{"panel":3,"optimizer":"SGLBO","run":"s6","shots":40000000,"logdE":-1.62},{"panel":3,"optimizer":"SGLBO","run":"s6","shots":60000000,"logdE":-1.8},{"panel":3,"optimizer":"SGLBO","run":"s6","shots":80000000,"logdE":-1.95},{"panel":3,"optimizer":"SGLBO","run":"s6","shots":100000000,"logdE":-2.1},
{"panel":3,"optimizer":"SGLBO","run":"s7","shots":0,"logdE":0.2},{"panel":3,"optimizer":"SGLBO","run":"s7","shots":5000000,"logdE":-0.55},{"panel":3,"optimizer":"SGLBO","run":"s7","shots":10000000,"logdE":-1.05},{"panel":3,"optimizer":"SGLBO","run":"s7","shots":15000000,"logdE":-1.3},{"panel":3,"optimizer":"SGLBO","run":"s7","shots":20000000,"logdE":-1.45},{"panel":3,"optimizer":"SGLBO","run":"s7","shots":30000000,"logdE":-1.6},{"panel":3,"optimizer":"SGLBO","run":"s7","shots":40000000,"logdE":-1.75},{"panel":3,"optimizer":"SGLBO","run":"s7","shots":60000000,"logdE":-1.95},{"panel":3,"optimizer":"SGLBO","run":"s7","shots":80000000,"logdE":-2.15},{"panel":3,"optimizer":"SGLBO","run":"s7","shots":100000000,"logdE":-2.3},
{"panel":3,"optimizer":"SGLBO","run":"s8","shots":0,"logdE":0.2},{"panel":3,"optimizer":"SGLBO","run":"s8","shots":5000000,"logdE":-0.6},{"panel":3,"optimizer":"SGLBO","run":"s8","shots":10000000,"logdE":-1.1},{"panel":3,"optimizer":"SGLBO","run":"s8","shots":15000000,"logdE":-1.35},{"panel":3,"optimizer":"SGLBO","run":"s8","shots":20000000,"logdE":-1.5},{"panel":3,"optimizer":"SGLBO","run":"s8","shots":30000000,"logdE":-1.7},{"panel":3,"optimizer":"SGLBO","run":"s8","shots":40000000,"logdE":-1.85},{"panel":3,"optimizer":"SGLBO","run":"s8","shots":60000000,"logdE":-2.1},{"panel":3,"optimizer":"SGLBO","run":"s8","shots":80000000,"logdE":-2.3},{"panel":3,"optimizer":"SGLBO","run":"s8","shots":100000000,"logdE":-2.5},
{"panel":3,"optimizer":"SGLBO","run":"s9","shots":0,"logdE":0.2},{"panel":3,"optimizer":"SGLBO","run":"s9","shots":5000000,"logdE":-0.7},{"panel":3,"optimizer":"SGLBO","run":"s9","shots":10000000,"logdE":-1.26},{"panel":3,"optimizer":"SGLBO","run":"s9","shots":14000000,"logdE":-1.57},{"panel":3,"optimizer":"SGLBO","run":"s9","shots":18000000,"logdE":-1.66},{"panel":3,"optimizer":"SGLBO","run":"s9","shots":26000000,"logdE":-1.8},{"panel":3,"optimizer":"SGLBO","run":"s9","shots":39000000,"logdE":-2.02},{"panel":3,"optimizer":"SGLBO","run":"s9","shots":53000000,"logdE":-2.33},{"panel":3,"optimizer":"SGLBO","run":"s9","shots":66000000,"logdE":-2.55},{"panel":3,"optimizer":"SGLBO","run":"s9","shots":79000000,"logdE":-2.73},{"panel":3,"optimizer":"SGLBO","run":"s9","shots":93000000,"logdE":-3.0},{"panel":3,"optimizer":"SGLBO","run":"s9","shots":100000000,"logdE":-3.25},
{"panel":3,"optimizer":"iCANS","run":"b1","shots":0,"logdE":0.2},{"panel":3,"optimizer":"iCANS","run":"b1","shots":5000000,"logdE":0.1},{"panel":3,"optimizer":"iCANS","run":"b1","shots":10000000,"logdE":0.0},{"panel":3,"optimizer":"iCANS","run":"b1","shots":20000000,"logdE":-0.12},{"panel":3,"optimizer":"iCANS","run":"b1","shots":30000000,"logdE":-0.2},{"panel":3,"optimizer":"iCANS","run":"b1","shots":40000000,"logdE":-0.27},{"panel":3,"optimizer":"iCANS","run":"b1","shots":60000000,"logdE":-0.37},{"panel":3,"optimizer":"iCANS","run":"b1","shots":80000000,"logdE":-0.43},{"panel":3,"optimizer":"iCANS","run":"b1","shots":100000000,"logdE":-0.48},
{"panel":3,"optimizer":"iCANS","run":"b2","shots":0,"logdE":0.2},{"panel":3,"optimizer":"iCANS","run":"b2","shots":5000000,"logdE":0.05},{"panel":3,"optimizer":"iCANS","run":"b2","shots":10000000,"logdE":-0.1},{"panel":3,"optimizer":"iCANS","run":"b2","shots":20000000,"logdE":-0.25},{"panel":3,"optimizer":"iCANS","run":"b2","shots":30000000,"logdE":-0.33},{"panel":3,"optimizer":"iCANS","run":"b2","shots":40000000,"logdE":-0.4},{"panel":3,"optimizer":"iCANS","run":"b2","shots":60000000,"logdE":-0.47},{"panel":3,"optimizer":"iCANS","run":"b2","shots":80000000,"logdE":-0.52},{"panel":3,"optimizer":"iCANS","run":"b2","shots":100000000,"logdE":-0.56},
{"panel":3,"optimizer":"iCANS","run":"b3","shots":0,"logdE":0.2},{"panel":3,"optimizer":"iCANS","run":"b3","shots":5000000,"logdE":-0.1},{"panel":3,"optimizer":"iCANS","run":"b3","shots":10000000,"logdE":-0.3},{"panel":3,"optimizer":"iCANS","run":"b3","shots":20000000,"logdE":-0.5},{"panel":3,"optimizer":"iCANS","run":"b3","shots":30000000,"logdE":-0.6},{"panel":3,"optimizer":"iCANS","run":"b3","shots":40000000,"logdE":-0.68},{"panel":3,"optimizer":"iCANS","run":"b3","shots":60000000,"logdE":-0.78},{"panel":3,"optimizer":"iCANS","run":"b3","shots":80000000,"logdE":-0.85},{"panel":3,"optimizer":"iCANS","run":"b3","shots":100000000,"logdE":-0.9},
{"panel":3,"optimizer":"iCANS","run":"b4","shots":0,"logdE":0.2},{"panel":3,"optimizer":"iCANS","run":"b4","shots":5000000,"logdE":-0.2},{"panel":3,"optimizer":"iCANS","run":"b4","shots":10000000,"logdE":-0.4},{"panel":3,"optimizer":"iCANS","run":"b4","shots":20000000,"logdE":-0.65},{"panel":3,"optimizer":"iCANS","run":"b4","shots":30000000,"logdE":-0.8},{"panel":3,"optimizer":"iCANS","run":"b4","shots":40000000,"logdE":-0.9},{"panel":3,"optimizer":"iCANS","run":"b4","shots":60000000,"logdE":-1.05},{"panel":3,"optimizer":"iCANS","run":"b4","shots":80000000,"logdE":-1.15},{"panel":3,"optimizer":"iCANS","run":"b4","shots":100000000,"logdE":-1.2},
{"panel":3,"optimizer":"iCANS","run":"b5","shots":0,"logdE":0.2},{"panel":3,"optimizer":"iCANS","run":"b5","shots":5000000,"logdE":-0.3},{"panel":3,"optimizer":"iCANS","run":"b5","shots":10000000,"logdE":-0.55},{"panel":3,"optimizer":"iCANS","run":"b5","shots":20000000,"logdE":-0.85},{"panel":3,"optimizer":"iCANS","run":"b5","shots":30000000,"logdE":-1.0},{"panel":3,"optimizer":"iCANS","run":"b5","shots":40000000,"logdE":-1.1},{"panel":3,"optimizer":"iCANS","run":"b5","shots":60000000,"logdE":-1.25},{"panel":3,"optimizer":"iCANS","run":"b5","shots":80000000,"logdE":-1.45},{"panel":3,"optimizer":"iCANS","run":"b5","shots":100000000,"logdE":-1.6},
{"panel":3,"optimizer":"iCANS","run":"b6","shots":0,"logdE":0.2},{"panel":3,"optimizer":"iCANS","run":"b6","shots":5000000,"logdE":-0.3},{"panel":3,"optimizer":"iCANS","run":"b6","shots":10000000,"logdE":-0.6},{"panel":3,"optimizer":"iCANS","run":"b6","shots":20000000,"logdE":-0.9},{"panel":3,"optimizer":"iCANS","run":"b6","shots":30000000,"logdE":-1.1},{"panel":3,"optimizer":"iCANS","run":"b6","shots":40000000,"logdE":-1.25},{"panel":3,"optimizer":"iCANS","run":"b6","shots":60000000,"logdE":-1.5},{"panel":3,"optimizer":"iCANS","run":"b6","shots":80000000,"logdE":-1.8},{"panel":3,"optimizer":"iCANS","run":"b6","shots":100000000,"logdE":-1.97},
{"panel":3,"optimizer":"Adam","run":"a1","shots":0,"logdE":0.2},{"panel":3,"optimizer":"Adam","run":"a1","shots":10000000,"logdE":-0.2},{"panel":3,"optimizer":"Adam","run":"a1","shots":20000000,"logdE":-0.6},{"panel":3,"optimizer":"Adam","run":"a1","shots":30000000,"logdE":-1.0},{"panel":3,"optimizer":"Adam","run":"a1","shots":50000000,"logdE":-1.2},{"panel":3,"optimizer":"Adam","run":"a1","shots":100000000,"logdE":-1.4},
{"panel":3,"optimizer":"Adam","run":"a2","shots":0,"logdE":0.2},{"panel":3,"optimizer":"Adam","run":"a2","shots":10000000,"logdE":0.0},{"panel":3,"optimizer":"Adam","run":"a2","shots":20000000,"logdE":-0.3},{"panel":3,"optimizer":"Adam","run":"a2","shots":30000000,"logdE":-0.6},{"panel":3,"optimizer":"Adam","run":"a2","shots":50000000,"logdE":-0.8},{"panel":3,"optimizer":"Adam","run":"a2","shots":100000000,"logdE":-0.95}
]
},
"hconcat":[
{"width":259,"height":272,"title":"4 qubits",
"encoding":{
"x":{"field":"shots","type":"quantitative","scale":{"domain":[-1000000,42000000],"nice":false,"zero":false},"axis":{"values":[0,10000000,20000000,30000000,40000000],"labelExpr":"format(datum.value/10000000,'d')","title":"# of shots"}},
"y":{"field":"logdE","type":"quantitative","scale":{"domain":[-4.4,0.38],"nice":false,"zero":false},"axis":{"values":[0,-0.5,-1,-1.5,-2,-2.5,-3,-3.5,-4],"format":".1f","title":"log₁₀(ΔE)"}}},
"layer":[
{"data":{"name":"traces"},"transform":[{"filter":"datum.panel==1"}],"mark":{"type":"line","strokeWidth":0.9,"opacity":0.35,"interpolate":"monotone"},"encoding":{"detail":{"field":"run"},"stroke":{"field":"optimizer","type":"nominal","scale":{"domain":["Adam","NFT","iCANS","SGLBO"],"range":["#d62728","#2ca02c","#1f77b4","#ff7f50"]},"legend":null}}},
{"data":{"name":"bands"},"transform":[{"filter":"datum.panel==1"}],"mark":{"type":"area","interpolate":"monotone"},"encoding":{"y":{"field":"lo","type":"quantitative","title":"log₁₀(ΔE)"},"y2":{"field":"hi"},"fill":{"field":"optimizer","type":"nominal","scale":{"domain":["NFT","Adam"],"range":["#2ca02c","#d62728"]},"legend":null},"fillOpacity":{"field":"band","type":"nominal","scale":{"domain":["NFT haze","NFT core","Adam haze","Adam core"],"range":[0.08,0.3,0.13,0.3]},"legend":null}}},
{"data":{"name":"means"},"transform":[{"filter":"datum.panel==1"}],"mark":{"type":"line","strokeWidth":2.5,"interpolate":"monotone"},"encoding":{"color":{"field":"method","type":"nominal","scale":{"domain":["SGLBO","iCANS","NFT","Adam"],"range":["#ff7f50","#1f77b4","#2ca02c","#d62728"]},"legend":{"title":null}},"strokeDash":{"field":"method","type":"nominal","scale":{"domain":["SGLBO","iCANS","NFT","Adam"],"range":[[1,0],[10,3,2,3,2,3],[2.5,2.5],[8,4]]},"legend":{"title":null}}}},
{"data":{"name":"means"},"transform":[{"filter":"datum.panel==1 && datum.method=='NFT'"}],"mark":{"type":"line","strokeWidth":3.5,"color":"#2ca02c"},"encoding":{}},
{"data":{"values":[{"note":"1e7"}]},"mark":{"type":"text","fontSize":6.5,"align":"right","baseline":"top","dy":13,"color":"#333"},"encoding":{"x":{"datum":42000000},"y":{"datum":-4.4},"text":{"field":"note"}}}
]},
{"width":259,"height":272,"title":"8 qubits",
"encoding":{
"x":{"field":"shots","type":"quantitative","scale":{"domain":[-900000,61900000],"nice":false,"zero":false},"axis":{"values":[0,10000000,20000000,30000000,40000000,50000000,60000000],"labelExpr":"format(datum.value/10000000,'d')","title":"# of shots"}},
"y":{"field":"logdE","type":"quantitative","scale":{"domain":[-3.6,0.235],"nice":false,"zero":false},"axis":{"values":[0,-0.5,-1,-1.5,-2,-2.5,-3,-3.5],"format":".1f","title":"log₁₀(ΔE)"}}},
"layer":[
{"data":{"name":"traces"},"transform":[{"filter":"datum.panel==2"}],"mark":{"type":"line","strokeWidth":0.9,"opacity":0.35,"interpolate":"monotone"},"encoding":{"detail":{"field":"run"},"stroke":{"field":"optimizer","type":"nominal","scale":{"domain":["Adam","NFT","iCANS","SGLBO"],"range":["#d62728","#2ca02c","#1f77b4","#ff7f50"]},"legend":null}}},
{"data":{"name":"bands"},"transform":[{"filter":"datum.panel==2"}],"mark":{"type":"area","interpolate":"monotone"},"encoding":{"y":{"field":"lo","type":"quantitative","title":"log₁₀(ΔE)"},"y2":{"field":"hi"},"fill":{"field":"optimizer","type":"nominal","scale":{"domain":["NFT","Adam"],"range":["#2ca02c","#d62728"]},"legend":null},"fillOpacity":{"field":"band","type":"nominal","scale":{"domain":["NFT haze","NFT core","Adam haze","Adam core"],"range":[0.08,0.3,0.13,0.3]},"legend":null}}},
{"data":{"name":"means"},"transform":[{"filter":"datum.panel==2"}],"mark":{"type":"line","strokeWidth":2.5,"interpolate":"monotone"},"encoding":{"color":{"field":"method","type":"nominal","scale":{"domain":["SGLBO","iCANS","NFT","Adam"],"range":["#ff7f50","#1f77b4","#2ca02c","#d62728"]},"legend":{"title":null}},"strokeDash":{"field":"method","type":"nominal","scale":{"domain":["SGLBO","iCANS","NFT","Adam"],"range":[[1,0],[10,3,2,3,2,3],[2.5,2.5],[8,4]]},"legend":{"title":null}}}},
{"data":{"name":"means"},"transform":[{"filter":"datum.panel==2 && datum.method=='NFT'"}],"mark":{"type":"line","strokeWidth":3.5,"color":"#2ca02c"},"encoding":{}},
{"data":{"values":[{"note":"1e7"}]},"mark":{"type":"text","fontSize":6.5,"align":"right","baseline":"top","dy":13,"color":"#333"},"encoding":{"x":{"datum":61900000},"y":{"datum":-3.6},"text":{"field":"note"}}}
]},
{"width":257,"height":272,"title":"12 qubits",
"encoding":{
"x":{"field":"shots","type":"quantitative","scale":{"domain":[-700000,101900000],"nice":false,"zero":false},"axis":{"values":[0,20000000,40000000,60000000,80000000,100000000],"labelExpr":"format(datum.value/100000000,'.1f')","title":"# of shots"}},
"y":{"field":"logdE","type":"quantitative","scale":{"domain":[-3.4,0.24],"nice":false,"zero":false},"axis":{"values":[0,-0.5,-1,-1.5,-2,-2.5,-3],"format":".1f","title":"log₁₀(ΔE)"}}},
"layer":[
{"data":{"name":"traces"},"transform":[{"filter":"datum.panel==3"}],"mark":{"type":"line","strokeWidth":0.9,"opacity":0.35,"interpolate":"monotone"},"encoding":{"detail":{"field":"run"},"stroke":{"field":"optimizer","type":"nominal","scale":{"domain":["Adam","NFT","iCANS","SGLBO"],"range":["#d62728","#2ca02c","#1f77b4","#ff7f50"]},"legend":null}}},
{"data":{"name":"bands"},"transform":[{"filter":"datum.panel==3"}],"mark":{"type":"area","interpolate":"monotone"},"encoding":{"y":{"field":"lo","type":"quantitative","title":"log₁₀(ΔE)"},"y2":{"field":"hi"},"fill":{"field":"optimizer","type":"nominal","scale":{"domain":["NFT","Adam"],"range":["#2ca02c","#d62728"]},"legend":null},"fillOpacity":{"field":"band","type":"nominal","scale":{"domain":["NFT haze","NFT core","Adam haze","Adam core"],"range":[0.08,0.3,0.13,0.3]},"legend":null}}},
{"data":{"name":"means"},"transform":[{"filter":"datum.panel==3"}],"mark":{"type":"line","strokeWidth":2.5,"interpolate":"monotone"},"encoding":{"color":{"field":"method","type":"nominal","scale":{"domain":["SGLBO","iCANS","NFT","Adam"],"range":["#ff7f50","#1f77b4","#2ca02c","#d62728"]},"legend":{"title":null}},"strokeDash":{"field":"method","type":"nominal","scale":{"domain":["SGLBO","iCANS","NFT","Adam"],"range":[[1,0],[10,3,2,3,2,3],[2.5,2.5],[8,4]]},"legend":{"title":null}}}},
{"data":{"name":"means"},"transform":[{"filter":"datum.panel==3 && datum.method=='NFT'"}],"mark":{"type":"line","strokeWidth":3.5,"color":"#2ca02c"},"encoding":{}},
{"data":{"values":[{"note":"1e8"}]},"mark":{"type":"text","fontSize":6.5,"align":"right","baseline":"top","dy":13,"color":"#333"},"encoding":{"x":{"datum":101900000},"y":{"datum":-3.4},"text":{"field":"note"}}}
]}
],
"spacing":54,
"bounds":"flush",
"resolve":{"scale":{"x":"independent","y":"independent","color":"independent","strokeDash":"independent","stroke":"independent","fill":"independent","fillOpacity":"independent"},"legend":{"color":"independent","strokeDash":"independent"}},
"config":{
"font":"DejaVu Sans",
"view":{"stroke":"#888888","strokeWidth":1},
"axis":{"grid":true,"gridColor":"#d9d9d9","gridWidth":1.2,"domain":false,"tickColor":"#444444","tickSize":3.5,"labelFontSize":10.5,"labelColor":"#222222","labelFont":"DejaVu Sans","titleFont":"DejaVu Sans","titleFontSize":16,"titleFontWeight":"normal","titleColor":"#000000"},
"axisX":{"labelPadding":2,"titlePadding":0,"labelFlush":false},
"axisY":{"labelPadding":2,"titlePadding":4},
"title":{"fontSize":16,"fontWeight":"normal","offset":0,"dy":4,"font":"DejaVu Sans","color":"#000000"},
"legend":{"orient":"bottom-left","offset":6,"padding":5,"strokeColor":"#cccccc","fillColor":"#ffffff","cornerRadius":3,"symbolType":"stroke","symbolSize":600,"symbolStrokeWidth":2.5,"labelFontSize":13,"labelFont":"DejaVu Sans","labelColor":"#000000","rowPadding":-10,"labelOffset":9}
}
}
